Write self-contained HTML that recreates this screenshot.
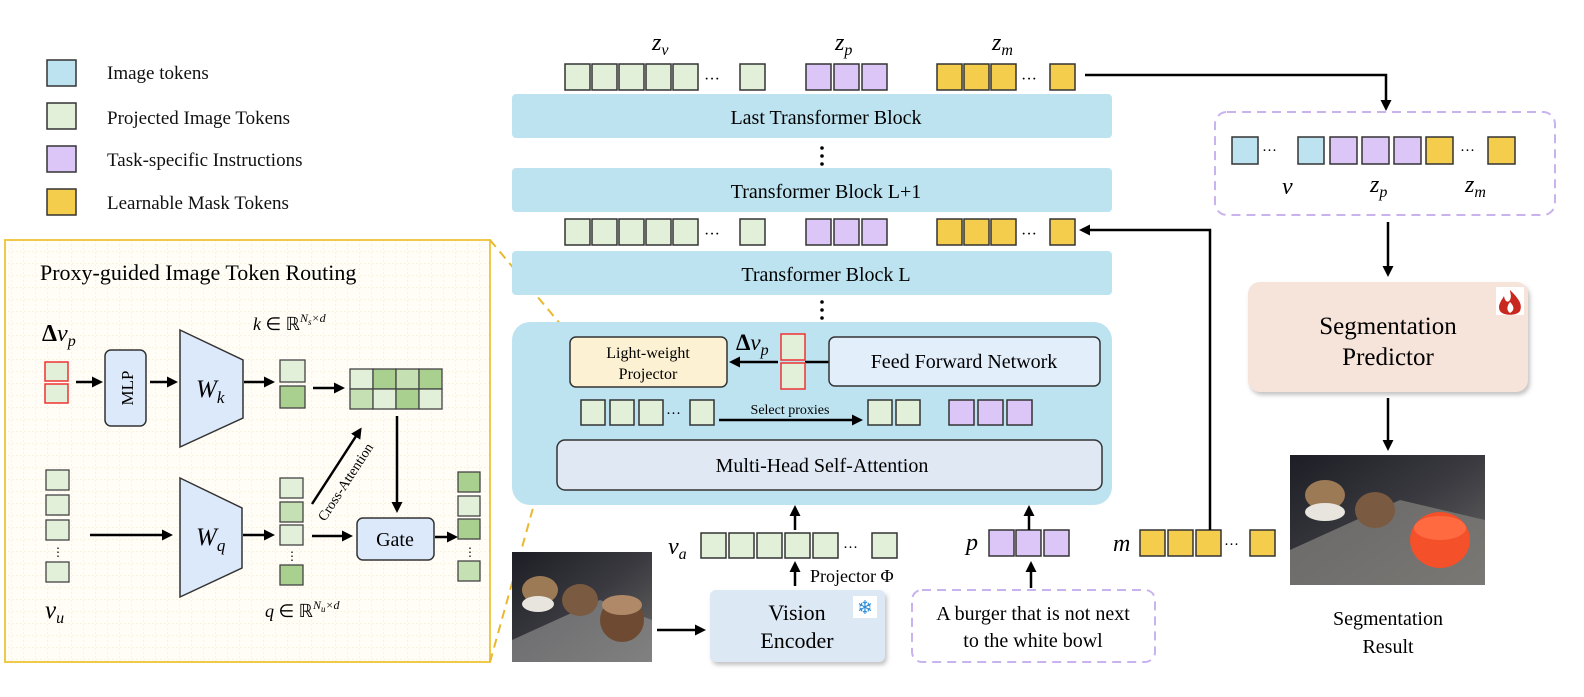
<!DOCTYPE html>
<html><head><meta charset="utf-8"><style>
body{margin:0;background:#fff}
svg text{font-family:"Liberation Serif",serif}
.m{font-style:italic}
</style></head><body>
<svg width="1584" height="692" viewBox="0 0 1584 692" xmlns="http://www.w3.org/2000/svg">
<defs>
<marker id="a" markerWidth="11" markerHeight="11" refX="8" refY="5.5" orient="auto" markerUnits="userSpaceOnUse"><path d="M0,0 L11,5.5 L0,11 Z" fill="#000"/></marker>
<pattern id="grid" width="12" height="12" patternUnits="userSpaceOnUse"><path d="M12 0 V12 M0 12 H12" stroke="#f3ead0" stroke-width="1" stroke-dasharray="2,2" fill="none"/></pattern>
<filter id="sh" x="-5%" y="-5%" width="115%" height="125%"><feDropShadow dx="2" dy="3" stdDeviation="2" flood-color="#999" flood-opacity="0.6"/></filter>
<linearGradient id="ph" x1="0" y1="0" x2="1" y2="1"><stop offset="0" stop-color="#1d1d25"/><stop offset="0.5" stop-color="#3a3a40"/><stop offset="1" stop-color="#6b6a68"/></linearGradient>
</defs>
<g stroke="#333" stroke-width="1.5">
<rect x="47" y="60" width="29" height="26" fill="#bde3f1"/>
<rect x="47" y="103" width="29" height="26" fill="#e2efd9"/>
<rect x="47" y="146" width="29" height="26" fill="#dcc6f7"/>
<rect x="47" y="189" width="29" height="26" fill="#f5cd4d"/>
</g>
<g font-size="19" fill="#111">
<text x="107" y="79">Image tokens</text>
<text x="107" y="124">Projected Image Tokens</text>
<text x="107" y="166">Task-specific Instructions</text>
<text x="107" y="209">Learnable Mask Tokens</text>
</g>

<rect x="5" y="240" width="485" height="422" fill="#fffdf5" stroke="#f0c84a" stroke-width="2"/>
<rect x="6" y="241" width="483" height="420" fill="url(#grid)"/>
<line x1="490" y1="240" x2="572" y2="338" stroke="#e8b830" stroke-width="2" stroke-dasharray="9,6"/>
<line x1="490" y1="662" x2="566" y2="390" stroke="#e8b830" stroke-width="2" stroke-dasharray="9,6"/>
<text x="40" y="280" font-size="22">Proxy-guided Image Token Routing</text>
<text x="42" y="341" font-size="24" font-weight="bold">Δ<tspan class="m" font-weight="normal">v</tspan><tspan class="m" font-weight="normal" font-size="16" dy="5">p</tspan></text>
<g stroke-width="1.5">
<rect x="45" y="362" width="23" height="19" fill="#e2efd9" stroke="#e33"/>
<rect x="45" y="384" width="23" height="19" fill="#e2efd9" stroke="#e33"/>
</g>
<line x1="76" y1="382" x2="100" y2="382" stroke="#000" stroke-width="2.5" marker-end="url(#a)"/>
<rect x="105" y="350" width="41" height="76" rx="6" fill="#dbe9fb" stroke="#333" stroke-width="1.5"/>
<text transform="translate(133,388) rotate(-90)" font-size="17" text-anchor="middle">MLP</text>
<line x1="150" y1="382" x2="175" y2="382" stroke="#000" stroke-width="2.5" marker-end="url(#a)"/>
<path d="M180 330 L243 360 L243 418 L180 447 Z" fill="#dbe9fb" stroke="#333" stroke-width="1.5"/>
<text x="196" y="397" font-size="25" class="m">W<tspan font-size="17" dy="6">k</tspan></text>
<line x1="244" y1="382" x2="272" y2="382" stroke="#000" stroke-width="2.5" marker-end="url(#a)"/>
<text x="253" y="330" font-size="18" class="m">k <tspan font-style="normal">∈ ℝ</tspan><tspan font-size="12" dy="-8">N</tspan><tspan font-size="9" dy="3">s</tspan><tspan font-size="12" dy="-3">×d</tspan></text>
<g stroke="#444" stroke-width="1.3">
<rect x="280" y="360" width="25" height="22" fill="#e2efd9"/>
<rect x="280" y="386" width="25" height="22" fill="#a9d08e"/>
<rect x="350" y="369" width="23" height="20" fill="#e2efd9"/><rect x="373" y="369" width="23" height="20" fill="#a9d08e"/><rect x="396" y="369" width="23" height="20" fill="#c5e0b3"/><rect x="419" y="369" width="23" height="20" fill="#a9d08e"/>
<rect x="350" y="389" width="23" height="20" fill="#c5e0b3"/><rect x="373" y="389" width="23" height="20" fill="#e2efd9"/><rect x="396" y="389" width="23" height="20" fill="#a9d08e"/><rect x="419" y="389" width="23" height="20" fill="#e2efd9"/>
</g>
<line x1="313" y1="388" x2="342" y2="388" stroke="#000" stroke-width="2.5" marker-end="url(#a)"/>
<line x1="397" y1="416" x2="397" y2="510" stroke="#000" stroke-width="2.5" marker-end="url(#a)"/>
<g stroke="#444" stroke-width="1.3" fill="#e2efd9">
<rect x="46" y="470" width="23" height="20"/><rect x="46" y="495" width="23" height="20"/><rect x="46" y="520" width="23" height="20"/><rect x="46" y="562" width="23" height="20"/>
</g>
<text x="52" y="556" font-size="12">⋮</text>
<text x="45" y="618" font-size="25" class="m">v<tspan font-size="16" dy="5">u</tspan></text>
<line x1="90" y1="535" x2="170" y2="535" stroke="#000" stroke-width="2.5" marker-end="url(#a)"/>
<path d="M180 478 L242 508 L242 568 L180 597 Z" fill="#dbe9fb" stroke="#333" stroke-width="1.5"/>
<text x="196" y="545" font-size="25" class="m">W<tspan font-size="17" dy="6">q</tspan></text>
<line x1="243" y1="535" x2="272" y2="535" stroke="#000" stroke-width="2.5" marker-end="url(#a)"/>
<g stroke="#444" stroke-width="1.3">
<rect x="280" y="478" width="23" height="20" fill="#e2efd9"/><rect x="280" y="502" width="23" height="20" fill="#c5e0b3"/><rect x="280" y="525" width="23" height="20" fill="#e2efd9"/><rect x="280" y="565" width="23" height="20" fill="#a9d08e"/>
</g>
<text x="286" y="560" font-size="12">⋮</text>
<text x="265" y="617" font-size="18" class="m">q <tspan font-style="normal">∈ ℝ</tspan><tspan font-size="12" dy="-8">N</tspan><tspan font-size="9" dy="3">u</tspan><tspan font-size="12" dy="-3">×d</tspan></text>
<line x1="312" y1="504" x2="360" y2="430" stroke="#000" stroke-width="2.5" marker-end="url(#a)"/>
<text transform="translate(325,522) rotate(-57)" font-size="14">Cross-Attention</text>
<line x1="312" y1="536" x2="350" y2="536" stroke="#000" stroke-width="2.5" marker-end="url(#a)"/>
<rect x="357" y="518" width="77" height="42" rx="6" fill="#dbe9fb" stroke="#333" stroke-width="1.5"/>
<text x="395" y="546" font-size="20" text-anchor="middle">Gate</text>
<line x1="435" y1="537" x2="455" y2="537" stroke="#000" stroke-width="2.5" marker-end="url(#a)"/>
<g stroke="#444" stroke-width="1.3">
<rect x="458" y="472" width="22" height="20" fill="#a9d08e"/><rect x="458" y="496" width="22" height="20" fill="#e2efd9"/><rect x="458" y="519" width="22" height="20" fill="#a9d08e"/><rect x="458" y="561" width="22" height="20" fill="#c5e0b3"/>
</g>
<text x="464" y="556" font-size="12">⋮</text>

<g fill="#bde3f1">
<rect x="512" y="94" width="600" height="44" rx="4"/>
<rect x="512" y="168" width="600" height="44" rx="4"/>
<rect x="512" y="251" width="600" height="44" rx="4"/>
<rect x="512" y="322" width="600" height="183" rx="18"/>
</g>
<g font-size="20" text-anchor="middle">
<text x="826" y="124">Last Transformer Block</text>
<text x="826" y="198">Transformer Block L+1</text>
<text x="826" y="281">Transformer Block L</text>
</g>
<g fill="#000"><circle cx="822" cy="148" r="1.8"/><circle cx="822" cy="156" r="1.8"/><circle cx="822" cy="164" r="1.8"/>
<circle cx="822" cy="302" r="1.8"/><circle cx="822" cy="310" r="1.8"/><circle cx="822" cy="318" r="1.8"/></g>

<g id="row" stroke="#333" stroke-width="1.5">
<rect x="565" y="64" width="25" height="26" fill="#e2efd9"/><rect x="592" y="64" width="25" height="26" fill="#e2efd9"/><rect x="619" y="64" width="25" height="26" fill="#e2efd9"/><rect x="646" y="64" width="25" height="26" fill="#e2efd9"/><rect x="673" y="64" width="25" height="26" fill="#e2efd9"/><rect x="740" y="64" width="25" height="26" fill="#e2efd9"/>
<rect x="806" y="64" width="25" height="26" fill="#dcc6f7"/><rect x="834" y="64" width="25" height="26" fill="#dcc6f7"/><rect x="862" y="64" width="25" height="26" fill="#dcc6f7"/>
<rect x="937" y="64" width="25" height="26" fill="#f5cd4d"/><rect x="964" y="64" width="25" height="26" fill="#f5cd4d"/><rect x="991" y="64" width="25" height="26" fill="#f5cd4d"/><rect x="1050" y="64" width="25" height="26" fill="#f5cd4d"/>
</g>
<text x="704" y="84" font-size="16">···</text><text x="1021" y="84" font-size="16">···</text>
<use href="#row" y="155"/>
<text x="704" y="239" font-size="16">···</text><text x="1021" y="239" font-size="16">···</text>
<text x="652" y="50" font-size="24" class="m">z<tspan font-size="16" dy="5">v</tspan></text>
<text x="835" y="50" font-size="24" class="m">z<tspan font-size="16" dy="5">p</tspan></text>
<text x="992" y="50" font-size="24" class="m">z<tspan font-size="16" dy="5">m</tspan></text>

<rect x="570" y="337" width="157" height="50" rx="6" fill="#fcf1d2" stroke="#333" stroke-width="1.5"/>
<text x="648" y="358" font-size="16" text-anchor="middle">Light-weight</text>
<text x="648" y="379" font-size="16" text-anchor="middle">Projector</text>
<text x="736" y="350" font-size="23" font-weight="bold">Δ<tspan class="m" font-weight="normal">v</tspan><tspan class="m" font-weight="normal" font-size="16" dy="5">p</tspan></text>
<line x1="778" y1="362" x2="732" y2="362" stroke="#000" stroke-width="2.5" marker-end="url(#a)"/>
<line x1="805" y1="362" x2="829" y2="362" stroke="#000" stroke-width="2.5"/>
<rect x="781" y="334" width="24" height="26" fill="#e2efd9" stroke="#e33" stroke-width="1.5"/>
<rect x="781" y="363" width="24" height="26" fill="#e2efd9" stroke="#e33" stroke-width="1.5"/>
<rect x="829" y="337" width="271" height="49" rx="6" fill="#e3eefb" stroke="#333" stroke-width="1.5"/>
<text x="964" y="368" font-size="20" text-anchor="middle">Feed Forward Network</text>
<g stroke="#333" stroke-width="1.5">
<rect x="581" y="400" width="24" height="25" fill="#e2efd9"/><rect x="610" y="400" width="24" height="25" fill="#e2efd9"/><rect x="639" y="400" width="24" height="25" fill="#e2efd9"/><rect x="690" y="400" width="24" height="25" fill="#e2efd9"/>
<rect x="868" y="400" width="24" height="25" fill="#e2efd9"/><rect x="896" y="400" width="24" height="25" fill="#e2efd9"/>
<rect x="949" y="400" width="25" height="25" fill="#dcc6f7"/><rect x="978" y="400" width="25" height="25" fill="#dcc6f7"/><rect x="1007" y="400" width="25" height="25" fill="#dcc6f7"/>
</g>
<text x="666" y="418" font-size="15">···</text>
<line x1="719" y1="420" x2="860" y2="420" stroke="#000" stroke-width="2.5" marker-end="url(#a)"/>
<text x="790" y="414" font-size="14" text-anchor="middle">Select proxies</text>
<rect x="557" y="440" width="545" height="50" rx="8" fill="#dfe8f3" stroke="#333" stroke-width="1.5"/>
<text x="822" y="472" font-size="20" text-anchor="middle">Multi-Head Self-Attention</text>

<line x1="795" y1="530" x2="795" y2="508" stroke="#000" stroke-width="2.5" marker-end="url(#a)"/>
<text x="668" y="554" font-size="24" class="m">v<tspan font-size="16" dy="5">a</tspan></text>
<g stroke="#333" stroke-width="1.5" fill="#e2efd9">
<rect x="701" y="533" width="25" height="25"/><rect x="729" y="533" width="25" height="25"/><rect x="757" y="533" width="25" height="25"/><rect x="785" y="533" width="25" height="25"/><rect x="813" y="533" width="25" height="25"/><rect x="872" y="533" width="25" height="25"/>
</g>
<text x="843" y="552" font-size="15">···</text>
<line x1="795" y1="586" x2="795" y2="564" stroke="#000" stroke-width="2.5" marker-end="url(#a)"/>
<text x="810" y="582" font-size="18">Projector Φ</text>
<rect x="512" y="552" width="140" height="110" fill="url(#ph)"/>
<path d="M512 640 L600 600 L652 620 L652 662 L512 662 Z" fill="#8a8a8a" opacity="0.7"/>
<ellipse cx="540" cy="590" rx="18" ry="14" fill="#9b7a55"/>
<ellipse cx="538" cy="604" rx="16" ry="8" fill="#e8e4de"/>
<ellipse cx="580" cy="600" rx="18" ry="16" fill="#7a5a40"/>
<ellipse cx="622" cy="620" rx="22" ry="22" fill="#6e4a32"/>
<ellipse cx="622" cy="605" rx="20" ry="10" fill="#b08a68"/>
<line x1="657" y1="630" x2="703" y2="630" stroke="#000" stroke-width="2.5" marker-end="url(#a)"/>
<rect x="710" y="590" width="175" height="72" rx="6" fill="#dde8f5" filter="url(#sh)"/>
<text x="797" y="620" font-size="22" text-anchor="middle">Vision</text>
<text x="797" y="648" font-size="22" text-anchor="middle">Encoder</text>
<rect x="853" y="596" width="24" height="22" fill="#fff"/>
<text x="865" y="614" font-size="19" fill="#2a8ad6" text-anchor="middle" font-family="DejaVu Sans">❄</text>

<text x="966" y="550" font-size="24" class="m">p</text>
<g stroke="#333" stroke-width="1.5" fill="#dcc6f7">
<rect x="989" y="530" width="25" height="26"/><rect x="1016" y="530" width="25" height="26"/><rect x="1044" y="530" width="25" height="26"/>
</g>
<line x1="1029" y1="530" x2="1029" y2="508" stroke="#000" stroke-width="2.5" marker-end="url(#a)"/>
<line x1="1031" y1="588" x2="1031" y2="564" stroke="#000" stroke-width="2.5" marker-end="url(#a)"/>
<rect x="912" y="590" width="243" height="72" rx="10" fill="#fff" stroke="#c9b3ee" stroke-width="2" stroke-dasharray="9,6"/>
<text x="1033" y="620" font-size="20" text-anchor="middle">A burger that is not next</text>
<text x="1033" y="647" font-size="20" text-anchor="middle">to the white bowl</text>

<text x="1113" y="551" font-size="24" class="m">m</text>
<g stroke="#333" stroke-width="1.5" fill="#f5cd4d">
<rect x="1140" y="530" width="25" height="26"/><rect x="1168" y="530" width="25" height="26"/><rect x="1196" y="530" width="25" height="26"/><rect x="1250" y="530" width="25" height="26"/>
</g>
<text x="1224" y="549" font-size="15">···</text>
<polyline points="1210,530 1210,230 1082,230" fill="none" stroke="#000" stroke-width="2.5" marker-end="url(#a)"/>

<polyline points="1085,75 1386,75 1386,108" fill="none" stroke="#000" stroke-width="2.5" marker-end="url(#a)"/>
<rect x="1215" y="112" width="340" height="103" rx="12" fill="#fff" stroke="#c9b3ee" stroke-width="2" stroke-dasharray="9,6"/>
<g stroke="#333" stroke-width="1.5">
<rect x="1232" y="137" width="26" height="27" fill="#bde3f1"/><rect x="1298" y="137" width="26" height="27" fill="#bde3f1"/>
<rect x="1330" y="137" width="27" height="27" fill="#dcc6f7"/><rect x="1362" y="137" width="27" height="27" fill="#dcc6f7"/><rect x="1394" y="137" width="27" height="27" fill="#dcc6f7"/>
<rect x="1426" y="137" width="27" height="27" fill="#f5cd4d"/><rect x="1488" y="137" width="27" height="27" fill="#f5cd4d"/>
</g>
<text x="1262" y="155" font-size="15">···</text><text x="1460" y="155" font-size="15">···</text>
<text x="1282" y="194" font-size="24" class="m">v</text>
<text x="1370" y="192" font-size="24" class="m">z<tspan font-size="16" dy="5">p</tspan></text>
<text x="1465" y="192" font-size="24" class="m">z<tspan font-size="16" dy="5">m</tspan></text>
<line x1="1388" y1="222" x2="1388" y2="274" stroke="#000" stroke-width="2.5" marker-end="url(#a)"/>
<rect x="1248" y="282" width="280" height="110" rx="12" fill="#f6e3d9" filter="url(#sh)"/>
<text x="1388" y="334" font-size="25" text-anchor="middle">Segmentation</text>
<text x="1388" y="365" font-size="25" text-anchor="middle">Predictor</text>
<rect x="1496" y="287" width="28" height="28" fill="#fff"/>
<path d="M1510 290 C1518 298 1523 304 1520 311 C1517 316 1503 316 1500 311 C1497 305 1502 300 1504 296 C1505 302 1508 303 1510 300 C1512 296 1510 293 1510 290 Z" fill="#c8281e"/>
<path d="M1510 302 C1514 306 1515 310 1510 313 C1506 310 1507 306 1510 302 Z" fill="#fff"/>
<line x1="1388" y1="398" x2="1388" y2="448" stroke="#000" stroke-width="2.5" marker-end="url(#a)"/>
<rect x="1290" y="455" width="195" height="130" fill="url(#ph)"/>
<path d="M1290 550 L1400 500 L1485 520 L1485 585 L1290 585 Z" fill="#7d7c78" opacity="0.8"/>
<ellipse cx="1325" cy="495" rx="20" ry="15" fill="#9b7a55"/>
<ellipse cx="1325" cy="512" rx="20" ry="9" fill="#e8e4de"/>
<ellipse cx="1375" cy="510" rx="20" ry="18" fill="#7a5a40"/>
<ellipse cx="1440" cy="540" rx="30" ry="28" fill="#f4502a"/>
<ellipse cx="1440" cy="528" rx="26" ry="12" fill="#ff6a40"/>
<text x="1388" y="625" font-size="20" text-anchor="middle">Segmentation</text>
<text x="1388" y="653" font-size="20" text-anchor="middle">Result</text>
</svg>
</body></html>
